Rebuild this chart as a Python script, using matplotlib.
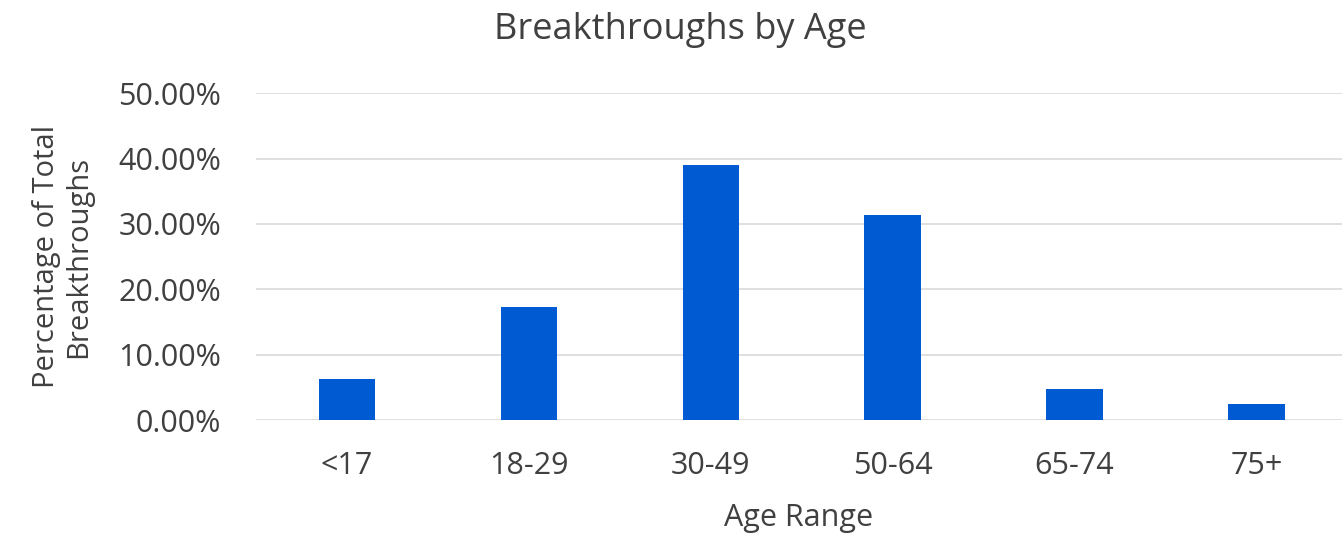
import matplotlib
matplotlib.use("Agg")
import matplotlib.pyplot as plt
from matplotlib.ticker import FuncFormatter

categories = ["<17", "18-29", "30-49", "50-64", "65-74", "75+"]
values = [0.062, 0.173, 0.390, 0.314, 0.047, 0.024]
yticks = [0.0, 0.1, 0.2, 0.3, 0.4, 0.5]

plt.rcParams['font.family'] = ['Open Sans', 'DejaVu Sans']
W, H = 1342, 535
fig = plt.figure(figsize=(W / 100, H / 100), dpi=100)
left, right = 256 / W, 1.0
bottom, top = 1 - 420 / H, 1 - 93.3 / H
ax = fig.add_axes([left, bottom, right - left, top - bottom])
ax_h_px = 420 - 93.3

x = list(range(len(categories)))
ax.bar(x, values, width=0.31, color="#005BD3", zorder=3)
ax.set_xlim(-0.5, 5.47)
ax.set_ylim(0, 0.5)
ax.set_yticks(yticks)
ax.yaxis.set_major_formatter(FuncFormatter(lambda v, p: f"{v*100:.2f}%"))
ax.set_xticks(x)
ax.set_xticklabels(categories)
ax.grid(axis="y", color="#d9d9d9", linewidth=1.2, zorder=0)
for s in ax.spines.values():
    s.set_visible(False)
ax.tick_params(axis="both", length=0, labelsize=22, colors="#404040")
ax.tick_params(axis="y", pad=25)
ax.tick_params(axis="x", pad=22)
ax.set_xlabel("Age Range", fontsize=22, color="#404040", va="center")
ax.xaxis.set_label_coords(0.5, -(518 - 420) / ax_h_px)
ax.set_ylabel("Percentage of Total\nBreakthroughs", fontsize=21, color="#404040", labelpad=18, linespacing=1.15)
fig.text(0.507, 1 - 30 / H, "Breakthroughs by Age", ha="center", va="center", fontsize=26, color="#404040")
fig.savefig("out.png", dpi=100)
